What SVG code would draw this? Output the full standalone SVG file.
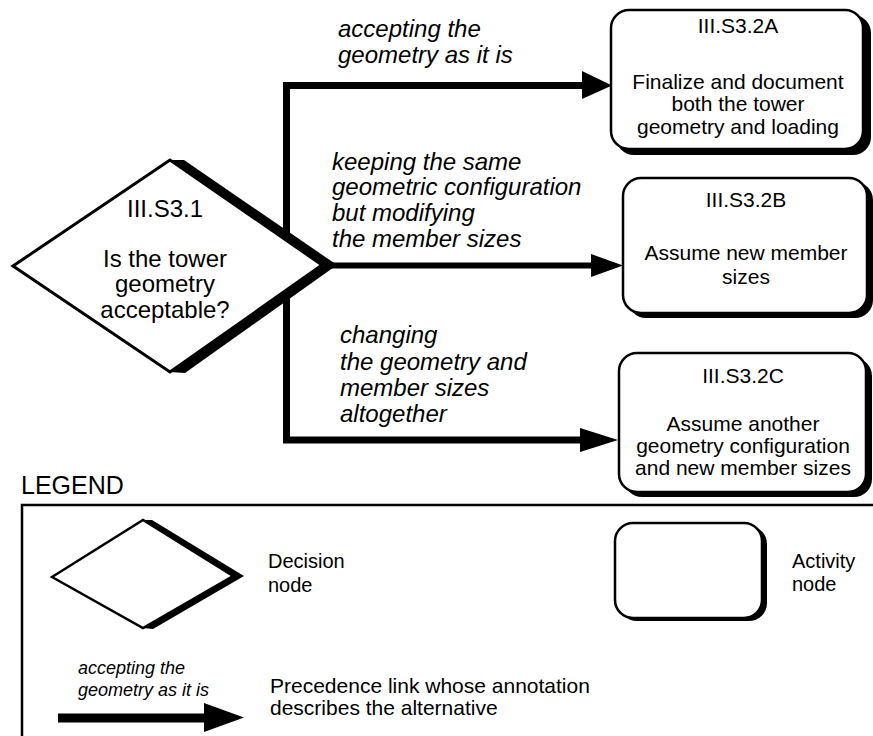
<svg xmlns="http://www.w3.org/2000/svg" width="873" height="736" viewBox="0 0 873 736">
<style>
text{font-family:"Liberation Sans",Arial,sans-serif;fill:#000}
.dt{font-size:24px;text-anchor:middle}
.bt{font-size:21px;text-anchor:middle}
.an{font-size:24px;font-style:italic}
.lg{font-size:20px}
.box{fill:#fff;stroke:#000;stroke-width:2.5}
.shadow{fill:#000}
.dia{fill:#fff;stroke:#000;stroke-width:3;stroke-linejoin:miter}
.link{fill:none;stroke:#000;stroke-width:7;stroke-linejoin:miter}
.head{fill:#000}
</style>
<rect width="873" height="736" fill="#fff"/>

<g id="connectors">
  <path class="link" d="M286.5 245 V85.5 H586"/>
  <polygon class="head" points="582,71 612,85.5 582,99"/>
  <path class="link" d="M318 265.5 H595" style="stroke-width:6"/>
  <polygon class="head" points="591,254 623,265.5 591,277"/>
  <path class="link" d="M286.5 285 V440 H584"/>
  <polygon class="head" points="580,428 618,440 580,452"/>
</g>

<g id="decision-III.S3.1">
  <polygon class="shadow" points="170,160 184,160 337,265 185,373 170,372"/>
  <polygon class="dia" points="13,266 170,160 322,265 170,372"/>
  <text class="dt" x="165" y="217">III.S3.1</text>
  <text class="dt" x="165" y="267">Is the tower</text>
  <text class="dt" x="165" y="292">geometry</text>
  <text class="dt" x="165" y="318">acceptable?</text>
</g>

<g id="label-a">
  <text class="an" x="338" y="37">accepting the</text>
  <text class="an" x="338" y="63">geometry as it is</text>
</g>
<g id="label-b">
  <text class="an" x="332" y="170">keeping the same</text>
  <text class="an" x="332" y="195">geometric configuration</text>
  <text class="an" x="332" y="221">but modifying</text>
  <text class="an" x="332" y="247">the member sizes</text>
</g>
<g id="label-c">
  <text class="an" x="340" y="343">changing</text>
  <text class="an" x="340" y="370">the geometry and</text>
  <text class="an" x="340" y="396">member sizes</text>
  <text class="an" x="340" y="422">altogether</text>
</g>

<g id="activity-III.S3.2A">
  <rect class="shadow" x="616" y="15" width="255" height="140" rx="18"/>
  <rect class="box" x="611" y="10" width="252" height="139" rx="18"/>
  <text class="bt" x="738" y="33">III.S3.2A</text>
  <text class="bt" x="738" y="89">Finalize and document</text>
  <text class="bt" x="738" y="111">both the tower</text>
  <text class="bt" x="738" y="134">geometry and loading</text>
</g>

<g id="activity-III.S3.2B">
  <rect class="shadow" x="628" y="182" width="245" height="136" rx="18"/>
  <rect class="box" x="623" y="178" width="244" height="135" rx="18"/>
  <text class="bt" x="746" y="207">III.S3.2B</text>
  <text class="bt" x="746" y="260">Assume new member</text>
  <text class="bt" x="746" y="284">sizes</text>
</g>

<g id="activity-III.S3.2C">
  <rect class="shadow" x="624" y="358" width="248" height="139" rx="18"/>
  <rect class="box" x="619" y="353" width="247" height="139" rx="18"/>
  <text class="bt" x="743" y="383">III.S3.2C</text>
  <text class="bt" x="743" y="431">Assume another</text>
  <text class="bt" x="743" y="453">geometry configuration</text>
  <text class="bt" x="743" y="475">and new member sizes</text>
</g>

<g id="legend">
  <text x="21" y="494" style="font-size:25px">LEGEND</text>
  <path d="M22 740 V505 H875" fill="none" stroke="#000" stroke-width="2.5"/>
  <g id="legend-decision">
    <polygon class="shadow" points="143,520 152,520 244,576 153,629 143,628"/>
    <polygon class="dia" points="52,577 143,520 233,576 143,628" style="stroke-width:2.5"/>
    <text class="lg" x="268" y="568">Decision</text>
    <text class="lg" x="268" y="592">node</text>
  </g>
  <g id="legend-activity">
    <rect class="shadow" x="619" y="526" width="148" height="95" rx="18"/>
    <rect class="box" x="615" y="523" width="147" height="95" rx="18"/>
    <text class="lg" x="792" y="568">Activity</text>
    <text class="lg" x="792" y="591">node</text>
  </g>
  <g id="legend-link">
    <text x="78" y="674" style="font-size:18px;font-style:italic">accepting the</text>
    <text x="78" y="696" style="font-size:18px;font-style:italic">geometry as it is</text>
    <path d="M58 718 H208" stroke="#000" stroke-width="9" fill="none"/>
    <polygon class="head" points="204,703 244,717.5 204,732"/>
    <text x="270" y="693" style="font-size:21px">Precedence link whose annotation</text>
    <text x="270" y="715" style="font-size:21px">describes the alternative</text>
  </g>
</g>
</svg>
